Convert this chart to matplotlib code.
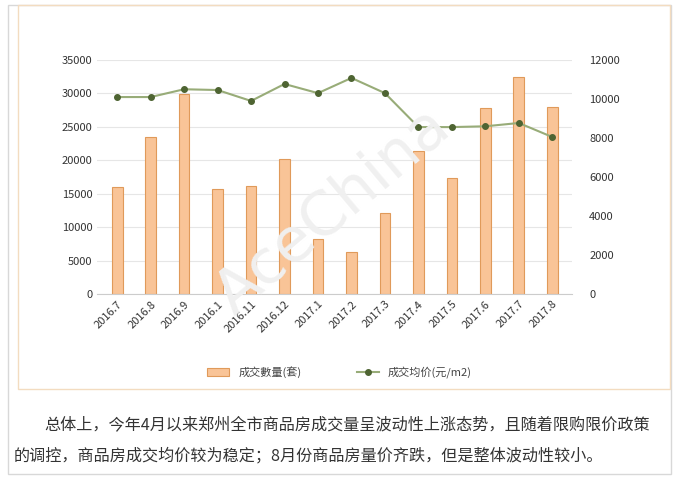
import matplotlib.pyplot as plt
from matplotlib.patches import Rectangle
import numpy as np

plt.rcParams['font.family'] = ['Noto Sans CJK SC', 'DejaVu Sans']

months = ["2016.7", "2016.8", "2016.9", "2016.1", "2016.11", "2016.12", "2017.1",
          "2017.2", "2017.3", "2017.4", "2017.5", "2017.6", "2017.7", "2017.8"]
volume = [16000, 23500, 29900, 15700, 16200, 20200, 8200,
          6300, 12100, 21400, 17300, 27800, 32500, 28000]
price = [10100, 10100, 10500, 10460, 9900, 10770, 10300,
         11080, 10300, 8560, 8560, 8600, 8770, 8050]

fig = plt.figure(figsize=(6.79, 4.80), dpi=100)
# outer frames
fig.patches.append(Rectangle((0.012, 0.012), 0.976, 0.978, transform=fig.transFigure,
                             fill=False, edgecolor="#d8d8d8", linewidth=1))
fig.patches.append(Rectangle((0.027, 0.19), 0.960, 0.80, transform=fig.transFigure,
                             fill=False, edgecolor="#f3dcc0", linewidth=1))

fig.text(0.49, 0.56, "AceChina", fontsize=44, color="#f0f0f0", rotation=40,
         ha="center", va="center", zorder=0, family="DejaVu Sans")

ax = fig.add_axes([0.143, 0.3875, 0.70, 0.4875])
ax.set_facecolor("none")
x = np.arange(len(months))
ax.bar(x, volume, width=0.32, color="#f9c497", edgecolor="#e09a5a", linewidth=0.8,
       label="成交數量(套)")
ax.set_ylim(0, 35000)
ax.set_yticks(range(0, 35001, 5000))
ax.set_xlim(-0.6, len(months) - 0.4)
ax.set_xticks(x)
ax.set_xticklabels(months, rotation=45, ha="right", rotation_mode="anchor")
ax.grid(axis="y", color="#e6e6e6", linewidth=0.8)
ax.set_axisbelow(True)
for s in ["top", "right", "left"]:
    ax.spines[s].set_visible(False)
ax.spines["bottom"].set_color("#cccccc")
ax.tick_params(length=0, labelsize=8, colors="#333333")

ax2 = ax.twinx()
ax2.set_facecolor("none")
ax2.plot(x, price, color="#98ac78", linewidth=1.5, marker="o", markersize=4,
         markerfacecolor="#4e6432", markeredgecolor="#4e6432", label="成交均价(元/m2)")
ax2.set_ylim(0, 12000)
ax2.set_yticks(range(0, 12001, 2000))
for s in ["top", "right", "left", "bottom"]:
    ax2.spines[s].set_visible(False)
ax2.tick_params(length=0, labelsize=8, colors="#333333", pad=12)

h1, l1 = ax.get_legend_handles_labels()
h2, l2 = ax2.get_legend_handles_labels()
fig.legend(h1 + h2, l1 + l2, loc="center", bbox_to_anchor=(0.5, 0.225), ncol=2,
           frameon=False, fontsize=8, columnspacing=5, labelcolor="#444444")

fig.text(0.065, 0.105, "总体上，今年4月以来郑州全市商品房成交量呈波动性上涨态势，且随着限购限价政策",
         fontsize=11.6, color="#333333")
fig.text(0.02, 0.04, "的调控，商品房成交均价较为稳定；8月份商品房量价齐跌，但是整体波动性较小。",
         fontsize=11.6, color="#333333")

fig.savefig("out.png", dpi=100)
